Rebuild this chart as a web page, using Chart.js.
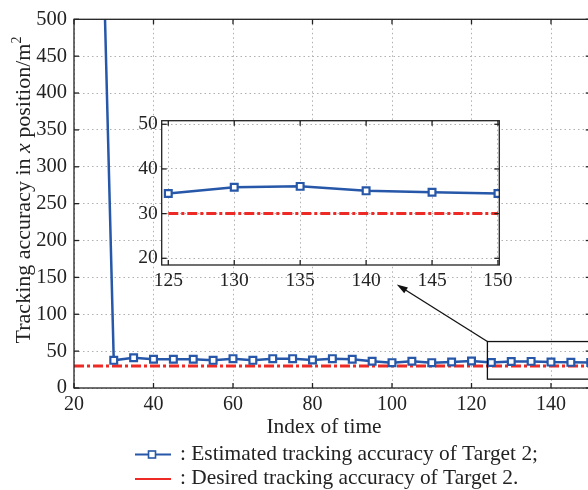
<!DOCTYPE html>
<html>
<head>
<meta charset="utf-8">
<script src="https://cdn.jsdelivr.net/npm/chart.js@4.4.0/dist/chart.umd.min.js"></script>
<style>
html, body { margin: 0; padding: 0; background: #fff; overflow: hidden; }
#wrap { position: relative; width: 588px; height: 490px; overflow: hidden; }
#main { position: absolute; left: 0; top: 0; }
#inset { position: absolute; left: 100px; top: 100px; }
</style>
</head>
<body>
<div id="wrap">
  <canvas id="main" width="600" height="490"></canvas>
  <canvas id="inset" width="420" height="200"></canvas>
</div>
<script>
// data
var timeIdx = [25, 30, 35, 40, 45, 50, 55, 60, 65, 70, 75, 80, 85, 90, 95, 100, 105, 110, 115, 120, 125, 130, 135, 140, 145, 150];
var estAcc  = [1090, 37.5, 41, 38.9, 38.9, 38.9, 37.5, 39.8, 37.5, 39.8, 39.8, 38, 39.8, 38.9, 36.2, 34.4, 36.2, 34.4, 35.3, 36.6, 34.5, 35.9, 36.1, 35.1, 34.8, 34.5];
var desiredIdx = [20, 150];
var desiredAcc = [30, 30];

var mainXTicks = [20, 40, 60, 80, 100, 120, 140];
var mainYTicks = [0, 50, 100, 150, 200, 250, 300, 350, 400, 450, 500];
var insetXTicks = [125, 130, 135, 140, 145, 150];
var insetYTicks = [20, 30, 40, 50];

var BLUE = '#2657a8';
var RED = '#ee2a26';
var SERIF = '"Liberation Serif", "Times New Roman", serif';

function pts(xs, ys, from) {
  var out = [];
  for (var i = 0; i < xs.length; i++) {
    if (from === undefined || xs[i] >= from) out.push({x: xs[i], y: ys[i]});
  }
  return out;
}

function setTicks(list) {
  return function(scale) {
    scale.ticks = list.map(function(v){ return {value: v}; });
  };
}

function line(ctx, x1, y1, x2, y2) {
  ctx.beginPath(); ctx.moveTo(x1, y1); ctx.lineTo(x2, y2); ctx.stroke();
}

// white area + box + inward tick marks
var frame = {
  id: 'frame',
  beforeDraw: function(chart) {
    var a = chart.chartArea, ctx = chart.ctx;
    ctx.save();
    ctx.fillStyle = '#fff';
    ctx.fillRect(a.left, a.top, a.right - a.left, a.bottom - a.top);
    ctx.restore();
  },
  afterDraw: function(chart) {
    var ctx = chart.ctx, a = chart.chartArea;
    var xs = chart.scales.x, ys = chart.scales.y;
    ctx.save();
    ctx.strokeStyle = '#222';
    ctx.lineWidth = 1.3;
    xs.ticks.forEach(function(t){
      var p = xs.getPixelForValue(t.value);
      line(ctx, p, a.bottom, p, a.bottom - 5);
      line(ctx, p, a.top, p, a.top + 5);
    });
    ys.ticks.forEach(function(t){
      var p = ys.getPixelForValue(t.value);
      line(ctx, a.left, p, a.left + 5, p);
      line(ctx, a.right, p, a.right - 5, p);
    });
    ctx.strokeRect(a.left, a.top, a.right - a.left, a.bottom - a.top);
    ctx.restore();
  }
};

// titles, legend, zoom box and arrow of the main chart
var extras = {
  id: 'extras',
  afterDraw: function(chart) {
    var ctx = chart.ctx;
    var xs = chart.scales.x, ys = chart.scales.y;
    ctx.save();

    // zoom box
    ctx.strokeStyle = '#111';
    ctx.lineWidth = 1.3;
    var bx = xs.getPixelForValue(124), by1 = ys.getPixelForValue(63), by2 = ys.getPixelForValue(12);
    ctx.strokeRect(bx, by1, 700, by2 - by1);

    // arrow
    var ax = xs.getPixelForValue(101.2), ay = ys.getPixelForValue(140.3);
    var ang = Math.atan2(ay - by1, ax - bx);
    line(ctx, bx, by1, ax - 8 * Math.cos(ang), ay - 8 * Math.sin(ang));
    ctx.fillStyle = '#111';
    ctx.beginPath();
    ctx.moveTo(ax, ay);
    ctx.lineTo(ax - 11 * Math.cos(ang) + 3.5 * Math.sin(ang), ay - 11 * Math.sin(ang) - 3.5 * Math.cos(ang));
    ctx.lineTo(ax - 11 * Math.cos(ang) - 3.5 * Math.sin(ang), ay - 11 * Math.sin(ang) + 3.5 * Math.cos(ang));
    ctx.closePath();
    ctx.fill();

    ctx.fillStyle = '#222';
    ctx.textBaseline = 'alphabetic';

    // y title with italic x and superscript 2
    var segs = [
      {t: 'Tracking accuracy in ', f: '22px ' + SERIF, dy: 0},
      {t: 'x', f: 'italic 22px ' + SERIF, dy: 0},
      {t: ' position/m', f: '22px ' + SERIF, dy: 0},
      {t: '2', f: '14px ' + SERIF, dy: -9}
    ];
    var total = 0;
    segs.forEach(function(s){ ctx.font = s.f; s.w = ctx.measureText(s.t).width; total += s.w; });
    ctx.translate(30, 190);
    ctx.rotate(-Math.PI / 2);
    var cx = -total / 2;
    ctx.textAlign = 'left';
    segs.forEach(function(s){ ctx.font = s.f; ctx.fillText(s.t, cx, s.dy); cx += s.w; });
    ctx.setTransform(1, 0, 0, 1, 0, 0);

    // x title
    ctx.font = '21.4px ' + SERIF;
    ctx.textAlign = 'center';
    ctx.fillText('Index of time', 324, 433);

    // legend
    ctx.textAlign = 'left';
    ctx.strokeStyle = BLUE;
    ctx.lineWidth = 2.2;
    line(ctx, 135, 454.5, 171, 454.5);
    ctx.fillStyle = '#fff';
    ctx.fillRect(148.5, 451, 7, 7);
    ctx.lineWidth = 1.6;
    ctx.strokeRect(148.5, 451, 7, 7);
    ctx.strokeStyle = RED;
    ctx.lineWidth = 2.2;
    line(ctx, 135, 479, 171, 479);
    ctx.fillStyle = '#222';
    ctx.fillText(': Estimated tracking accuracy of Target 2;', 180, 460);
    ctx.fillText(': Desired tracking accuracy of Target 2.', 180, 484);
    ctx.restore();
  }
};

function gridOpts() {
  return { color: '#b0b0b0', lineWidth: 1, drawTicks: false };
}

var estStyle = {
  borderColor: BLUE,
  backgroundColor: BLUE,
  borderWidth: 2.5,
  pointStyle: 'rect',
  pointRadius: 4.8,
  pointBorderWidth: 2.2,
  pointBackgroundColor: '#fff',
  pointBorderColor: BLUE,
  tension: 0
};
var desStyle = {
  borderColor: RED,
  borderWidth: 3,
  borderDash: [10, 3, 3, 3],
  pointRadius: 0,
  tension: 0
};

var mainChart = new Chart(document.getElementById('main'), {
  type: 'line',
  data: {
    datasets: [
      Object.assign({ label: 'Estimated tracking accuracy of Target 2', data: pts(timeIdx, estAcc) }, estStyle),
      Object.assign({ label: 'Desired tracking accuracy of Target 2', data: pts(desiredIdx, desiredAcc) }, desStyle)
    ]
  },
  options: {
    responsive: false,
    animation: false,
    layout: { padding: { left: 0, top: 15, right: 9.25, bottom: 0 } },
    plugins: { legend: { display: false }, tooltip: { enabled: false } },
    scales: {
      x: {
        type: 'linear', min: 20, max: 150,
        afterBuildTicks: setTicks(mainXTicks),
        afterFit: function(s){ s.height = 102; },
        grid: gridOpts(),
        border: { display: false, dash: [1.5, 3] },
        ticks: { color: '#222', padding: 5, maxRotation: 0, font: { family: SERIF, size: 20 } }
      },
      y: {
        type: 'linear', min: 0, max: 500,
        afterBuildTicks: setTicks(mainYTicks),
        afterFit: function(s){ s.width = 74; },
        grid: gridOpts(),
        border: { display: false, dash: [1.5, 3] },
        ticks: { color: '#222', padding: 7, font: { family: SERIF, size: 20.5 } }
      }
    }
  },
  plugins: [frame, extras]
});

var insetChart = new Chart(document.getElementById('inset'), {
  type: 'line',
  data: {
    datasets: [
      Object.assign({ label: 'est', data: pts(timeIdx, estAcc, 125) }, estStyle),
      Object.assign({ label: 'des', data: [{x: 125, y: desiredAcc[0]}, {x: 150, y: desiredAcc[1]}] }, desStyle)
    ]
  },
  options: {
    responsive: false,
    animation: false,
    layout: { padding: { left: 0, top: 20.7, right: 20.7, bottom: 0 } },
    plugins: { legend: { display: false }, tooltip: { enabled: false } },
    scales: {
      x: {
        type: 'linear', min: 124.5, max: 150.1,
        afterBuildTicks: setTicks(insetXTicks),
        afterFit: function(s){ s.height = 35; },
        grid: gridOpts(),
        border: { display: false, dash: [1.5, 3] },
        ticks: { color: '#222', padding: 4, maxRotation: 0, font: { family: SERIF, size: 19.5 } }
      },
      y: {
        type: 'linear', min: 18.5, max: 50.8,
        afterBuildTicks: setTicks(insetYTicks),
        afterFit: function(s){ s.width = 61.7; },
        grid: gridOpts(),
        border: { display: false, dash: [1.5, 3] },
        ticks: { color: '#222', padding: 4, font: { family: SERIF, size: 19.5 } }
      }
    }
  },
  plugins: [frame]
});
</script>
</body>
</html>
